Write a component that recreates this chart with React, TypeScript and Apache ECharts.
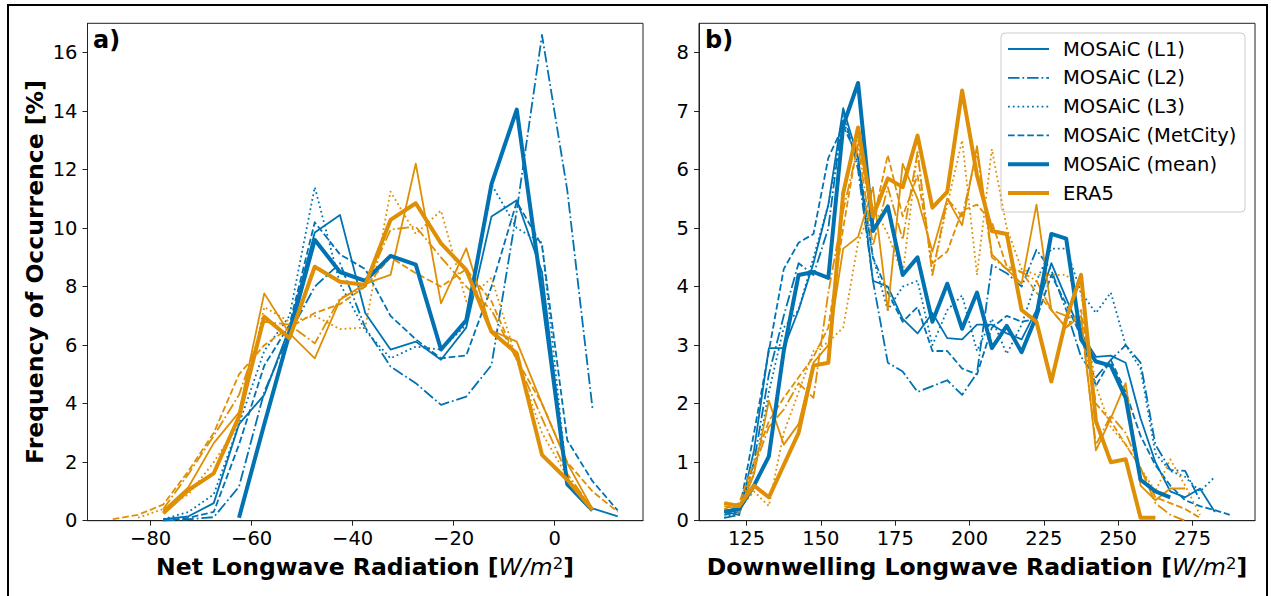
import React, { useEffect, useRef } from "react";
import * as echarts from "echarts";

const BLUE = "#0173B2";
const ORANGE = "#DE8F05";
const FONT = '"DejaVu Sans", "Noto Sans", sans-serif';

// ---------- Panel a: Net longwave radiation ----------
const netBins = [-87.5, -82.5, -77.5, -72.5, -67.5, -62.5, -57.5, -52.5, -47.5, -42.5, -37.5, -32.5, -27.5, -22.5, -17.5, -12.5, -7.5, -2.5, 2.5, 7.5, 12.5];
const netL1 = [null, null, 0.05, 0.15, 0.6, 3.3, 4.3, 6.6, 9.85, 10.45, 7.1, 5.85, 6.12, 5.5, 6.6, 10.4, 10.95, 8.5, 1.2, 0.42, 0.15];
const netL2 = [null, null, 0.0, 0.05, 0.12, 1.16, 4.4, 6.4, 8.0, 8.8, 6.6, 5.27, 4.7, 3.96, 4.24, 5.32, 10.6, 16.6, 11.3, 3.84, null];
const netL3 = [null, null, 0.05, 0.3, 0.9, 3.3, 5.8, 7.0, 11.4, 8.1, 6.5, 5.55, 5.95, 5.85, 6.7, 11.5, 10.0, 9.5, 1.3, 0.3, null];
const netMetCity = [null, null, 0.0, 0.1, 0.3, 2.6, 5.3, 6.7, 10.2, 9.1, 8.6, 7.0, 6.2, 5.55, 5.65, 8.0, 10.9, 9.4, 2.75, 1.35, 0.35];
const netMean = [null, null, null, null, null, 0.1, 3.3, 6.4, 9.6, 8.5, 8.2, 9.05, 8.75, 5.85, 6.85, 11.5, 14.05, 7.8, 1.25, 0.35, null];
const netEraL1 = [null, null, 0.35, 1.15, 2.65, 3.7, 7.77, 6.4, 5.55, 7.55, 8.1, 8.4, 12.2, 7.43, 9.31, 6.5, 6.12, 4.0, 1.97, 0.4, null];
const netEraL2 = [null, null, 0.4, 1.6, 2.9, 4.3, 6.8, 6.7, 6.06, 7.6, 8.0, 9.95, 10.05, 9.0, 8.0, 7.2, 5.5, 3.5, 1.6, 0.4, null];
const netEraL3 = [null, 0.1, 0.4, 0.9, 2.0, 3.3, 7.3, 6.8, 7.0, 6.55, 6.6, 11.25, 9.8, 10.6, 7.5, 8.3, 5.5, 3.0, 1.5, 0.35, null];
const netEraMetCity = [0.05, 0.2, 0.55, 1.7, 3.0, 5.0, 6.0, 6.6, 7.1, 7.4, 8.0, 9.0, 8.46, 8.0, 8.6, 7.5, 5.5, 4.0, 2.0, 1.0, 0.3];
const netEraMean = [null, null, 0.25, 1.05, 1.62, 3.56, 6.97, 6.24, 8.68, 8.17, 8.06, 10.28, 10.85, 9.48, 8.57, 6.46, 5.72, 2.25, 1.4, 0.37, null];

// ---------- Panel b: Downwelling longwave radiation ----------
const dlwBins = [117.5, 122.5, 127.5, 132.5, 137.5, 142.5, 147.5, 152.5, 157.5, 162.5, 167.5, 172.5, 177.5, 182.5, 187.5, 192.5, 197.5, 202.5, 207.5, 212.5, 217.5, 222.5, 227.5, 232.5, 237.5, 242.5, 247.5, 252.5, 257.5, 262.5, 267.5, 272.5, 277.5, 282.5, 287.5];
const dlwL1 = [0.15, 0.1, 1.2, 2.95, 2.95, 3.6, 4.4, 5.4, 7.05, 6.2, 4.1, 4.0, 3.45, 3.2, 3.55, 3.12, 3.1, 3.35, 3.35, 3.2, 3.1, 3.6, 4.4, 3.8, 3.2, 2.8, 2.82, 2.7, 1.75, 1.0, 0.5, 0.4, 0.55, 0.15, null];
const dlwL2 = [0.05, 0.1, 1.0, 2.5, 3.5, 4.4, 4.2, 5.0, 7.0, 6.0, 4.1, 2.7, 2.55, 2.2, 2.3, 2.4, 2.15, 2.52, 4.37, 4.23, 4.0, 4.63, 4.28, 3.6, 2.8, 2.45, 2.75, 3.0, 2.7, 1.3, 0.87, 0.85, 0.35, null, null];
const dlwL3 = [0.05, 0.15, 0.8, 2.2, 3.3, 3.6, 4.5, 5.4, 6.85, 6.1, 4.5, 3.6, 4.0, 4.1, 3.0, 3.6, 3.85, 2.9, 3.45, 2.85, 3.35, 4.1, 4.65, 4.65, 3.9, 3.55, 3.9, 3.0, 2.6, 1.15, 0.85, 0.75, 0.5, 0.75, null];
const dlwMetCity = [0.1, 0.15, 1.5, 2.9, 4.3, 4.75, 4.9, 6.2, 6.75, 6.2, 4.5, 3.9, 3.4, 3.65, 2.9, 2.9, 2.6, 2.5, 3.3, 3.5, 3.4, 3.45, 4.2, 3.7, 3.15, 2.3, 2.75, 2.2, 1.45, 0.95, 0.6, 0.35, 0.25, 0.18, 0.1];
const dlwMean = [0.15, 0.2, 0.6, 1.1, 2.9, 4.2, 4.25, 4.15, 6.75, 7.48, 4.95, 5.37, 4.2, 4.5, 3.4, 4.05, 3.28, 3.9, 2.95, 3.33, 2.88, 3.5, 4.9, 4.82, 3.1, 2.72, 2.65, 2.1, 0.7, 0.5, 0.4, null, null, null, null];
const dlwEraL1 = [0.2, 0.15, 0.8, 2.05, 1.3, 1.65, 2.7, 3.0, 4.65, 4.85, 5.7, 3.6, 6.1, 5.5, 4.6, 5.5, 5.05, 6.4, 4.55, 4.3, 4.05, 5.4, 3.6, 3.3, 3.5, 1.2, 1.75, 2.35, 0.6, 0.35, 0.55, 0.55, null, null, null];
const dlwEraL2 = [0.25, 0.2, 0.9, 1.6, 1.9, 2.35, 2.1, 3.9, 5.3, 6.4, 4.7, 5.7, 4.8, 6.3, 4.2, 5.5, 5.2, 6.3, 4.5, 4.3, 4.25, 4.1, 3.6, 3.5, 3.4, 1.3, 1.8, 1.5, 0.9, 0.3, 0.1, 0.0, null, null, null];
const dlwEraL3 = [0.3, 0.2, 0.5, 0.25, 1.5, 2.2, 2.9, 3.05, 3.3, 4.75, 5.4, 4.9, 4.2, 6.3, 4.2, 5.4, 6.5, 4.2, 6.35, 5.0, 4.3, 4.2, 4.2, 4.2, 3.9, 2.3, 1.6, 1.3, 0.9, 0.5, 1.05, 0.6, 0.1, null, null];
const dlwEraMetCity = [0.2, 0.3, 1.0, 1.7, 2.1, 2.45, 2.8, 3.3, 5.0, 6.5, 5.1, 6.25, 5.2, 5.9, 4.4, 4.6, 5.3, 5.4, 5.1, 4.35, 4.25, 3.9, 3.6, 3.3, 3.6, 2.0, 1.7, 1.3, 0.9, 0.4, 0.3, 0.2, 0.05, null, null];
const dlwEraMean = [0.3, 0.25, 0.6, 0.4, 0.95, 1.5, 2.65, 2.7, 5.6, 6.72, 5.2, 5.85, 5.7, 6.58, 5.35, 5.62, 7.35, 5.9, 4.95, 4.9, 3.6, 3.4, 2.38, 3.45, 4.2, 1.7, 1.0, 1.05, 0.05, 0.05, null, null, null, null, null];

// ---------- Ticks and labels ----------
const netTicks = [-80, -60, -40, -20, 0];
const netFreqTicks = [0, 2, 4, 6, 8, 10, 12, 14, 16];
const dlwTicks = [125, 150, 175, 200, 225, 250, 275];
const dlwFreqTicks = [0, 1, 2, 3, 4, 5, 6, 7, 8];
const legendLabels = ["MOSAiC (L1)", "MOSAiC (L2)", "MOSAiC (L3)", "MOSAiC (MetCity)", "MOSAiC (mean)", "ERA5"];
const yTitle = "Frequency of Occurrence [%]";

const THIN = 1.8;
const THICK = 4;
const DASHED = [6.7, 2.9];
const DASHDOT = [11.5, 2.9, 1.8, 2.9];
const DOTTED = [1.8, 3];

function pairs(bins: number[], vals: (number | null)[]) {
  const out: number[][] = [];
  bins.forEach((x, i) => {
    const v = vals[i];
    if (v !== null && v !== undefined) out.push([x, v]);
  });
  return out;
}

function line(name: string, idx: number, bins: number[], vals: (number | null)[], color: string, width: number, type: any, z: number) {
  return {
    type: "line",
    name,
    xAxisIndex: idx,
    yAxisIndex: idx,
    data: pairs(bins, vals),
    symbol: "none",
    showSymbol: false,
    silent: true,
    z,
    lineStyle: { color, width, type, cap: "butt", join: "round" },
    emphasis: { disabled: true },
  };
}

function panelSeries(idx: number, bins: number[], m: any[], e: any[]) {
  return [
    line("MOSAiC (L1)", idx, bins, m[0], BLUE, THIN, "solid", 2),
    line("MOSAiC (L2)", idx, bins, m[1], BLUE, THIN, DASHDOT, 2),
    line("MOSAiC (L3)", idx, bins, m[2], BLUE, THIN, DOTTED, 2),
    line("MOSAiC (MetCity)", idx, bins, m[3], BLUE, THIN, DASHED, 2),
    line("ERA5 (L1)", idx, bins, e[0], ORANGE, THIN, "solid", 3),
    line("ERA5 (L2)", idx, bins, e[1], ORANGE, THIN, DASHDOT, 3),
    line("ERA5 (L3)", idx, bins, e[2], ORANGE, THIN, DOTTED, 3),
    line("ERA5 (MetCity)", idx, bins, e[3], ORANGE, THIN, DASHED, 3),
    line("MOSAiC (mean)", idx, bins, m[4], BLUE, THICK, "solid", 4),
    line("ERA5", idx, bins, e[4], ORANGE, THICK, "solid", 5),
  ];
}

const minus = (v: number) => (v < 0 ? "\u2212" + Math.abs(v) : String(v));

function xAxis(idx: number, min: number, max: number, ticks: number[], fmt?: (v: number) => string) {
  return {
    type: "value",
    gridIndex: idx,
    min,
    max,
    splitLine: { show: false },
    axisLine: { show: true, onZero: false, lineStyle: { color: "#222", width: 1 } },
    axisTick: { show: true, length: 5, customValues: ticks, lineStyle: { color: "#222", width: 1 } },
    axisLabel: { show: true, customValues: ticks, fontSize: 19.5, color: "#000", fontFamily: FONT, margin: 8, formatter: fmt || ((v: number) => String(v)) },
  };
}

function yAxis(idx: number, max: number, ticks: number[]) {
  return {
    type: "value",
    gridIndex: idx,
    min: 0,
    max,
    splitLine: { show: false },
    axisLine: { show: true, onZero: false, lineStyle: { color: "#222", width: 1 } },
    axisTick: { show: true, length: 5, customValues: ticks, lineStyle: { color: "#222", width: 1 } },
    axisLabel: { show: true, customValues: ticks, fontSize: 19.5, color: "#000", fontFamily: FONT, margin: 10 },
  };
}

function axisTitle(x: number, y: number) {
  return {
    b: { fontSize: 23.5, fontWeight: "bold", fontFamily: FONT, fill: "#000" },
    i: { fontSize: 23.5, fontStyle: "italic", fontWeight: "normal", fontFamily: FONT, fill: "#000" },
    s: { fontSize: 16.5, fontWeight: "normal", fontFamily: FONT, fill: "#000", verticalAlign: "top" },
  };
}

export default function App() {
  const ref = useRef<HTMLDivElement>(null);
  useEffect(() => {
    if (!ref.current) return;
    const chart = echarts.init(ref.current, undefined, { renderer: "svg" });

    const legendStyles: { color: string; width: number; dash: any }[] = [
      { color: BLUE, width: THIN, dash: null },
      { color: BLUE, width: THIN, dash: DASHDOT },
      { color: BLUE, width: THIN, dash: DOTTED },
      { color: BLUE, width: THIN, dash: DASHED },
      { color: BLUE, width: THICK, dash: null },
      { color: ORANGE, width: THICK, dash: null },
    ];
    const legendTop = 49;
    const legendStep = 28.8;
    const legendChildren: any[] = [
      {
        type: "rect",
        shape: { x: 1001, y: 33, width: 244, height: 179, r: 4 },
        style: { fill: "rgba(255,255,255,0.8)", stroke: "#cccccc", lineWidth: 1 },
      },
    ];
    legendLabels.forEach((lab, i) => {
      const y = legendTop + i * legendStep;
      const st = legendStyles[i];
      legendChildren.push({
        type: "line",
        shape: { x1: 1008, y1: y, x2: 1049, y2: y },
        style: { stroke: st.color, lineWidth: st.width, lineDash: st.dash || undefined, lineCap: "butt" },
      });
      legendChildren.push({
        type: "text",
        style: { text: lab, x: 1063, y, font: `19.5px ${FONT}`, fill: "#000", verticalAlign: "middle", align: "left" },
      });
    });

    const option: any = {
      animation: false,
      backgroundColor: "#ffffff",
      grid: [
        { left: 87.5, top: 23.3, width: 555.5, height: 497.4, show: true, borderColor: "#222", borderWidth: 1, backgroundColor: "transparent", containLabel: false },
        { left: 699, top: 23.3, width: 556, height: 497.4, show: true, borderColor: "#222", borderWidth: 1, backgroundColor: "transparent", containLabel: false },
      ],
      xAxis: [xAxis(0, -92.5, 17.5, netTicks, minus), xAxis(1, 109, 296, dlwTicks)],
      yAxis: [yAxis(0, 17, netFreqTicks), yAxis(1, 8.5, dlwFreqTicks)],
      series: [
        ...panelSeries(0, netBins, [netL1, netL2, netL3, netMetCity, netMean], [netEraL1, netEraL2, netEraL3, netEraMetCity, netEraMean]),
        ...panelSeries(1, dlwBins, [dlwL1, dlwL2, dlwL3, dlwMetCity, dlwMean], [dlwEraL1, dlwEraL2, dlwEraL3, dlwEraMetCity, dlwEraMean]),
      ],
      graphic: [
        {
          type: "rect",
          silent: true,
          z: 100,
          shape: { x: 8, y: 5, width: 1259, height: 600 },
          style: { fill: "none", stroke: "#000", lineWidth: 2 },
        },
        {
          type: "text",
          z: 100,
          x: 35,
          y: 272,
          rotation: Math.PI / 2,
          style: { text: yTitle, font: `bold 23.5px ${FONT}`, fill: "#000", align: "center", verticalAlign: "middle" },
        },
        {
          type: "text",
          z: 100,
          style: {
            text: "{b|Net Longwave Radiation [}{i|W/m}{s|2}{b|]}",
            x: 365,
            y: 567,
            align: "center",
            verticalAlign: "middle",
            rich: axisTitle(365, 567),
          },
        },
        {
          type: "text",
          z: 100,
          style: {
            text: "{b|Downwelling Longwave Radiation [}{i|W/m}{s|2}{b|]}",
            x: 977,
            y: 567,
            align: "center",
            verticalAlign: "middle",
            rich: axisTitle(977, 567),
          },
        },
        {
          type: "text",
          z: 100,
          style: { text: "a)", x: 93, y: 40, font: `bold 24px ${FONT}`, fill: "#000", verticalAlign: "middle" },
        },
        {
          type: "text",
          z: 100,
          style: { text: "b)", x: 705, y: 40, font: `bold 24px ${FONT}`, fill: "#000", verticalAlign: "middle" },
        },
        { type: "group", z: 110, children: legendChildren },
      ],
    };
    chart.setOption(option);
    return () => chart.dispose();
  }, []);

  return <div ref={ref} style={{ position: "fixed", left: 0, top: 0, width: 1271, height: 596, background: "#fff" }} />;
}
